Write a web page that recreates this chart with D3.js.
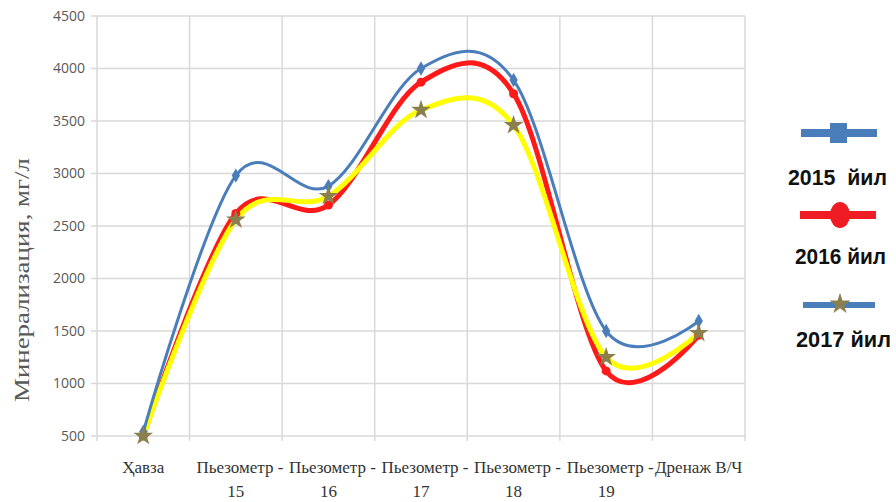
<!DOCTYPE html>
<html>
<head>
<meta charset="utf-8">
<script src="https://cdn.jsdelivr.net/npm/d3@7"></script>
<style>
  body { margin: 0; background: #fff; }
</style>
</head>
<body>
<div class="chart"></div>
<script>
var categories = ["Ҳавза", "Пьезометр -|15", "Пьезометр -|16", "Пьезометр -|17", "Пьезометр -|18", "Пьезометр -|19", "Дренаж В/Ч"];
var values_2015 = [540, 2980, 2880, 4000, 3890, 1500, 1595];
var values_2016 = [500, 2620, 2700, 3870, 3760, 1120, 1460];
var values_2017 = [500, 2560, 2785, 3605, 3460, 1250, 1480];
var y_ticks = [500, 1000, 1500, 2000, 2500, 3000, 3500, 4000, 4500];
var legend_labels = ["2015  йил", "2016 йил", "2017 йил"];

var width = 896, height = 502,
    plot_left = 97, plot_right = 745,
    plot_top = 16, plot_bottom = 436;

var svg = d3.select(".chart").append("svg")
    .attr("width", width)
    .attr("height", height);

var x = d3.scaleBand().domain(categories).range([plot_left, plot_right]);
var y = d3.scaleLinear().domain([500, 4500]).range([plot_bottom, plot_top]);

// grid
svg.append("g").selectAll("line.h").data(y_ticks).enter().append("line")
    .attr("x1", plot_left - 6).attr("x2", plot_right)
    .attr("y1", d => y(d)).attr("y2", d => y(d))
    .attr("stroke", "#d9d9d9").attr("stroke-width", 1.5);

var edges = categories.map(c => x(c)).concat([plot_right]);
svg.append("g").selectAll("line.v").data(edges).enter().append("line")
    .attr("x1", d => d).attr("x2", d => d)
    .attr("y1", plot_top).attr("y2", plot_bottom + 5)
    .attr("stroke", "#d9d9d9").attr("stroke-width", 1.5);

// y tick labels
svg.append("g").selectAll("text").data(y_ticks).enter().append("text")
    .attr("x", plot_left - 12)
    .attr("y", d => y(d))
    .attr("dy", "0.35em")
    .attr("text-anchor", "end")
    .attr("font-family", "Open Sans, sans-serif")
    .attr("font-size", 14)
    .attr("fill", "#595959")
    .text(d => d);

// y title
svg.append("text")
    .attr("transform", "translate(29,280) rotate(-90)")
    .attr("text-anchor", "middle")
    .attr("font-family", "Liberation Serif, serif")
    .attr("font-size", 21)
    .attr("textLength", 244)
    .attr("lengthAdjust", "spacingAndGlyphs")
    .attr("fill", "#595959")
    .text("Минерализация, мг/л");

// x labels
var xl = svg.append("g").selectAll("text").data(categories).enter().append("text")
    .attr("y", 473)
    .attr("text-anchor", "middle")
    .attr("font-family", "Liberation Serif, serif")
    .attr("font-size", 17)
    .attr("fill", "#333");
xl.each(function(d) {
    var parts = d.split("|");
    var t = d3.select(this);
    parts.forEach((p, i) => {
        t.append("tspan")
            .attr("x", x(d) + x.bandwidth() / 2 + (i == 0 && parts.length > 1 ? 4 : 0))
            .attr("dy", i == 0 ? 0 : 24)
            .text(p);
    });
});

var line = d3.line()
    .x((d, i) => x(categories[i]) + x.bandwidth() / 2)
    .y(d => y(d))
    .curve(d3.curveCatmullRom.alpha(0));

svg.append("path").datum(values_2016)
    .attr("d", line).attr("fill", "none")
    .attr("stroke", "#ff1a1a").attr("stroke-width", 5);
svg.append("path").datum(values_2017)
    .attr("d", line).attr("fill", "none")
    .attr("stroke", "#ffff00").attr("stroke-width", 5);
svg.append("path").datum(values_2015)
    .attr("d", line).attr("fill", "none")
    .attr("stroke", "#4a7ebb").attr("stroke-width", 3);

// markers
svg.append("g").selectAll("circle").data(values_2016).enter().append("circle")
    .attr("cx", (d, i) => x(categories[i]) + x.bandwidth() / 2)
    .attr("cy", d => y(d))
    .attr("r", 4.5)
    .attr("fill", "#ff1a1a");
svg.append("g").selectAll("path").data(values_2015).enter().append("path")
    .attr("d", d3.symbol().type(d3.symbolDiamond).size(60))
    .attr("transform", (d, i) => "translate(" + (x(categories[i]) + x.bandwidth() / 2) + "," + y(d) + ")")
    .attr("fill", "#4a7ebb");
svg.append("g").selectAll("path").data(values_2017).enter().append("path")
    .attr("d", d3.symbol().type(d3.symbolStar).size(120))
    .attr("transform", (d, i) => "translate(" + (x(categories[i]) + x.bandwidth() / 2) + "," + y(d) + ")")
    .attr("fill", "#8c7f4e");

// legend
var legend = svg.append("g");
legend.append("line").attr("x1", 801).attr("x2", 877).attr("y1", 133).attr("y2", 133)
    .attr("stroke", "#4a7ebb").attr("stroke-width", 8);
legend.append("rect").attr("x", 830).attr("y", 123).attr("width", 17).attr("height", 20)
    .attr("fill", "#4a7ebb");
legend.append("line").attr("x1", 800).attr("x2", 876).attr("y1", 215).attr("y2", 215)
    .attr("stroke", "#f01c24").attr("stroke-width", 8);
legend.append("ellipse").attr("cx", 840).attr("cy", 215).attr("rx", 10).attr("ry", 13)
    .attr("fill", "#f01c24");
legend.append("line").attr("x1", 803).attr("x2", 875).attr("y1", 305).attr("y2", 305)
    .attr("stroke", "#4a7ebb").attr("stroke-width", 6);
legend.append("path")
    .attr("d", d3.symbol().type(d3.symbolStar).size(140))
    .attr("transform", "translate(840,304)")
    .attr("fill", "#8c7f4e");

legend.selectAll("text").data(legend_labels).enter().append("text")
    .attr("x", (d, i) => [788, 795, 796][i])
    .attr("y", (d, i) => [185, 264, 347][i])
    .attr("font-family", "Liberation Sans, Arial, sans-serif")
    .attr("font-weight", "bold")
    .attr("font-size", 22)
    .attr("textLength", (d, i) => [99, 91, 95][i])
    .attr("lengthAdjust", "spacingAndGlyphs")
    .attr("fill", "#111")
    .attr("xml:space", "preserve")
    .style("white-space", "pre")
    .text(d => d);
</script>
</body>
</html>
